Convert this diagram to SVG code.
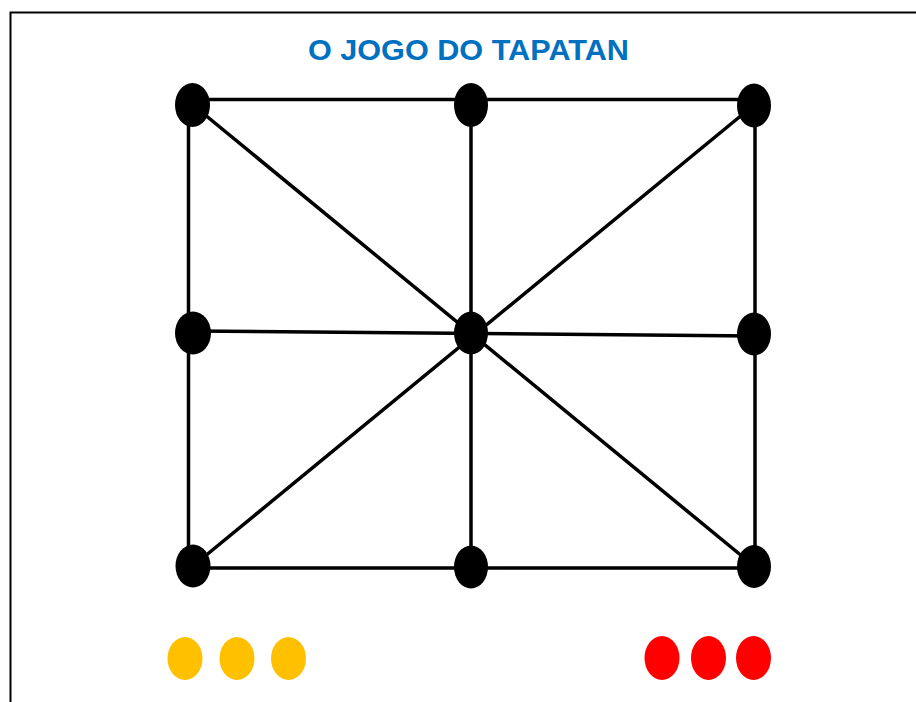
<svg xmlns="http://www.w3.org/2000/svg" width="916" height="702" viewBox="0 0 916 702">
  <style>
    .line { stroke: #000; stroke-width: 3.5; fill: none; stroke-linecap: round; }
    .node { fill: #000; }
    .yellow { fill: #FFC000; }
    .red { fill: #FF0000; }
    .title { font-family: "Liberation Sans", Arial, sans-serif; font-weight: bold; font-size: 29.5px; fill: #0070C0; }
  </style>
  <rect x="0" y="0" width="916" height="702" fill="#fff"/>
  <path d="M10.5,702 V12.5 H916" stroke="#000" stroke-width="2" fill="none"/>
  <text class="title" x="468.4" y="59.5" text-anchor="middle" textLength="321" lengthAdjust="spacingAndGlyphs">O JOGO DO TAPATAN</text>
  <g id="connectors">
    <line class="line" x1="193" y1="99.5" x2="754" y2="99.5"/>
    <line class="line" x1="193" y1="568" x2="754" y2="568"/>
    <line class="line" x1="188.5" y1="105" x2="188.5" y2="566"/>
    <line class="line" x1="755" y1="105" x2="755" y2="566"/>
    <line class="line" x1="471" y1="105" x2="471" y2="567"/>
    <line class="line" x1="193" y1="331" x2="754" y2="336"/>
    <line class="line" x1="193" y1="105" x2="754" y2="566"/>
    <line class="line" x1="754" y1="105" x2="193" y2="566"/>
  </g>
  <g id="n-tl"><ellipse class="node" cx="192.5" cy="105" rx="17.5" ry="22"/></g>
  <g id="n-tc"><ellipse class="node" cx="471" cy="105" rx="17" ry="22"/></g>
  <g id="n-tr"><ellipse class="node" cx="754" cy="105.5" rx="17" ry="22"/></g>
  <g id="n-ml"><ellipse class="node" cx="193" cy="333" rx="18" ry="21.5"/></g>
  <g id="n-c"><ellipse class="node" cx="471" cy="333" rx="17" ry="21.5"/></g>
  <g id="n-mr"><ellipse class="node" cx="754" cy="334" rx="17" ry="21.5"/></g>
  <g id="n-bl"><ellipse class="node" cx="193" cy="566" rx="17.5" ry="21.5"/></g>
  <g id="n-bc"><ellipse class="node" cx="471" cy="567" rx="17" ry="21.5"/></g>
  <g id="n-br"><ellipse class="node" cx="754" cy="566.5" rx="17" ry="21.5"/></g>
  <g id="yellow-pieces">
    <ellipse class="yellow" cx="185" cy="658.5" rx="17.5" ry="21.5"/>
    <ellipse class="yellow" cx="237" cy="658.5" rx="17.5" ry="21.5"/>
    <ellipse class="yellow" cx="288.5" cy="658.5" rx="17.5" ry="21.5"/>
  </g>
  <g id="red-pieces">
    <ellipse class="red" cx="662" cy="658" rx="17.5" ry="22"/>
    <ellipse class="red" cx="708.5" cy="658" rx="17.5" ry="22"/>
    <ellipse class="red" cx="753.5" cy="658" rx="17.5" ry="22"/>
  </g>
</svg>
